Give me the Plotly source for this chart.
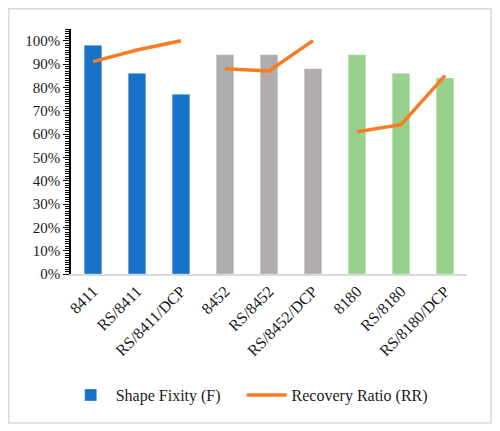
import plotly.graph_objects as go

# Sample names and measured values (fractions)
samples = ["8411", "RS/8411", "RS/8411/DCP",
           "8452", "RS/8452", "RS/8452/DCP",
           "8180", "RS/8180", "RS/8180/DCP"]
shape_fixity = [0.98, 0.86, 0.77, 0.94, 0.94, 0.88, 0.94, 0.86, 0.84]
recovery_ratio = [0.91, 0.96, 1.00, 0.88, 0.87, 1.00, 0.61, 0.64, 0.85]
group_colors = ["#1872C8"] * 3 + ["#B0ACAB"] * 3 + ["#98D18B"] * 3

SERIF = "Liberation Serif"

fig = go.Figure()
fig.add_trace(go.Bar(x=samples,
                     y=shape_fixity,
                     name="Shape Fixity (F)    ",
                     marker={"color": group_colors,
                             "line": {"color": "rgba(255,255,255,0.6)", "width": 0.5}},
                     hovertemplate="F: %{y:.0%}<br>%{x}<extra></extra>"))

# recovery ratio is drawn per material group, so the line breaks between groups
for g in range(3):
    fig.add_trace(go.Scatter(x=samples[g * 3:g * 3 + 3],
                             y=recovery_ratio[g * 3:g * 3 + 3],
                             mode="lines",
                             name="Recovery Ratio (RR)",
                             legendgroup="rr",
                             showlegend=(g == 0),
                             line={"width": 3.5, "color": "#F97B22"},
                             hovertemplate="RR: %{y:.0%}<br>%{x}<extra></extra>"))

# page body adds an 8px margin, so the figure is sized to the visible area
fig.update_layout(
    width=492,
    height=423,
    margin={"l": 63, "r": 33, "t": 21, "b": 157},
    paper_bgcolor="white",
    plot_bgcolor="white",
    bargap=0.6,
    font={"family": SERIF, "size": 15, "color": "#1a1a1a"},
    showlegend=True,
    legend={"orientation": "h",
            "x": 0.45, "xanchor": "center",
            "y": -0.494, "yanchor": "middle",
            "font": {"family": SERIF, "size": 16, "color": "#1a1a1a"},
            "itemwidth": 40},
    xaxis={"type": "category",
           "tickangle": -45,
           "tickfont": {"family": SERIF, "size": 16, "color": "#1a1a1a"},
           "showline": True, "linecolor": "#D9D9D9", "linewidth": 1.5,
           "ticks": "", "showgrid": False},
    yaxis={"range": [0, 1.05],
           "tickvals": [i / 10 for i in range(11)],
           "tickformat": ".0%",
           "tickfont": {"family": SERIF, "size": 15, "color": "#1a1a1a"},
           "showline": True, "linecolor": "black", "linewidth": 1.5,
           "ticks": "outside", "ticklen": 6, "tickcolor": "black", "tickwidth": 1.2,
           "minor": {"dtick": 0.01, "ticks": "outside", "ticklen": 4,
                     "tickcolor": "black", "tickwidth": 1},
           "showgrid": False, "zeroline": False},
    shapes=[{"type": "rect", "xref": "paper", "yref": "paper",
             "x0": -0.157, "x1": 1.0606, "y0": -0.608, "y1": 1.0827,
             "line": {"color": "#D9D9D9", "width": 1.5}}],
)

fig.write_html("out.html")
